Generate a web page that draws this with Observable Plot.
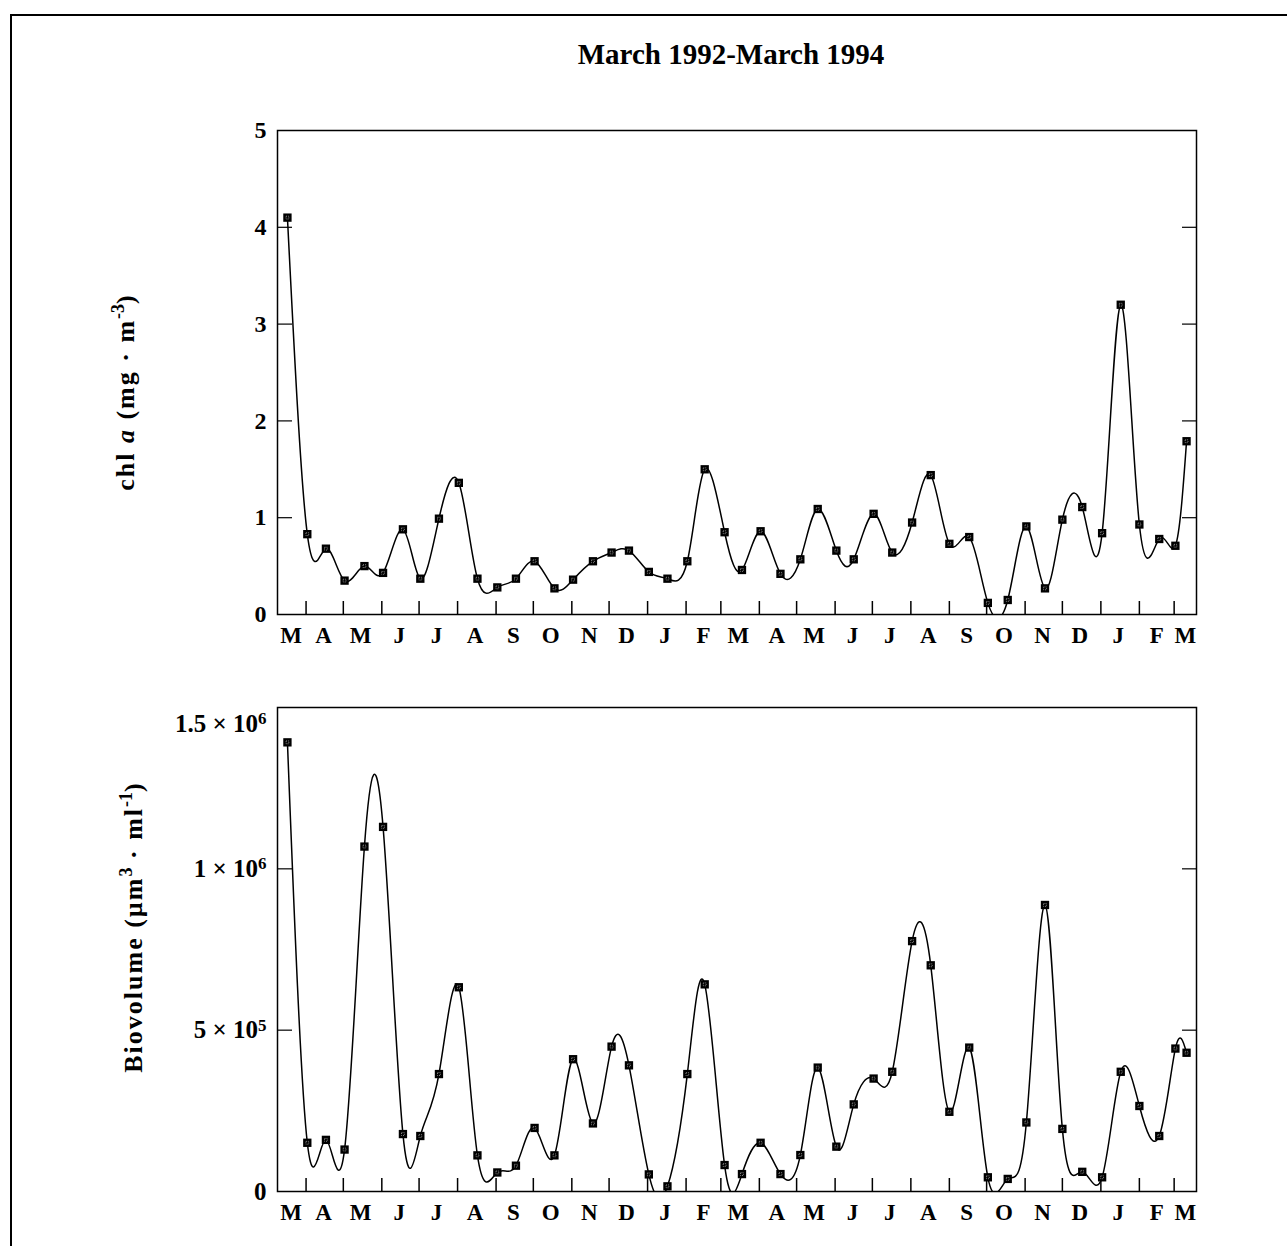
<!DOCTYPE html>
<html>
<head>
<meta charset="utf-8">
<script src="https://cdn.jsdelivr.net/npm/d3@7"></script>
<script src="https://cdn.jsdelivr.net/npm/@observablehq/plot@0.6"></script>
<style>
  html, body { margin: 0; padding: 0; background: #fff; }
  body { width: 1287px; height: 1246px; position: relative; overflow: hidden;
         font-family: "Liberation Serif", "Times New Roman", serif; color: #000; }
  #border { position: absolute; left: 10px; top: 14px; width: 1400px; height: 1400px; z-index: 3;
            border-left: 2px solid #000; border-top: 2px solid #000; box-sizing: border-box; }
  #title { position: absolute; left: 731px; top: 40px; transform: translateX(-50%); z-index: 3;
           font-size: 29px; font-weight: bold; white-space: nowrap; line-height: 29px; }
  .ylab { position: absolute; font-size: 26px; font-weight: bold; white-space: nowrap; z-index: 3;
          letter-spacing: 2px; transform: translate(-50%, -50%) rotate(-90deg); line-height: 26px; }
  .ylab sup { font-size: 18px; vertical-align: 0; position: relative; top: -10px; letter-spacing: 0; }
  #chart1, #chart2 { position: absolute; left: 0; z-index: 1; }
  #chart1 { top: 100px; }
  #chart2 { top: 660px; }
</style>
</head>
<body>
<div id="chart1"></div>
<div id="chart2"></div>
<div id="border"></div>
<div id="title">March 1992-March 1994</div>
<div class="ylab" style="left:127px; top:392px;">chl <i>a</i> (mg · m<sup>-3</sup>)</div>
<div class="ylab" style="left:135px; top:927px;">Biovolume (µm<sup>3</sup> · ml<sup>-1</sup>)</div>
<script>
// ---- data ----
const sampleDates = ["1992-03-17","1992-04-02","1992-04-17","1992-05-02","1992-05-18","1992-06-02","1992-06-18",
  "1992-07-02","1992-07-17","1992-08-02","1992-08-17","1992-09-02","1992-09-17","1992-10-02","1992-10-18",
  "1992-11-02","1992-11-18","1992-12-03","1992-12-17","1993-01-02","1993-01-17","1993-02-02","1993-02-16",
  "1993-03-04","1993-03-18","1993-04-02","1993-04-18","1993-05-04","1993-05-18","1993-06-02","1993-06-16",
  "1993-07-02","1993-07-17","1993-08-02","1993-08-17","1993-09-01","1993-09-17","1993-10-02","1993-10-18",
  "1993-11-02","1993-11-17","1993-12-01","1993-12-17","1994-01-02","1994-01-17","1994-02-01","1994-02-17",
  "1994-03-02","1994-03-11"];
const chlA = [4.10,0.83,0.68,0.35,0.50,0.43,0.88,0.37,0.99,1.36,0.37,0.28,0.37,0.55,0.27,0.36,0.55,0.64,0.66,
  0.44,0.37,0.55,1.50,0.85,0.46,0.86,0.42,0.57,1.09,0.66,0.57,1.04,0.64,0.95,1.44,0.73,0.80,0.12,0.15,0.91,
  0.27,0.98,1.11,0.84,3.20,0.93,0.78,0.71,1.79];
const biovolume = [1392000,151000,160000,130000,1069000,1130000,178000,172000,364000,633000,112000,59000,80000,
  197000,112000,410000,211000,449000,391000,53000,16000,364000,642000,82000,54000,151000,54000,113000,384000,
  139000,270000,350000,371000,776000,701000,247000,446000,44000,39000,214000,888000,194000,61000,44000,371000,
  265000,172000,443000,430000];
const monthLabels = ["M","A","M","J","J","A","S","O","N","D","J","F","M","A","M","J","J","A","S","O","N","D","J","F","M"];
const chlTicks = [0,1,2,3,4,5];
const bioTicks = [0,500000,1000000,1500000];
const bioTickLabels = ["0","5 × 10^5","1 × 10^6","1.5 × 10^6"];
const xStart = "1992-03-09", xEnd = "1994-03-19";

// ---- derived ----
const parse = d3.utcParse("%Y-%m-%d");
const xDomain = [parse(xStart), parse(xEnd)];
const rows = sampleDates.map((d, i) => ({date: parse(d), chl: chlA[i], bio: biovolume[i]}));
const monthStarts = d3.utcMonth.range(d3.utcMonth.ceil(xDomain[0]), xDomain[1]);
const lo = d3.utcDay.offset(xDomain[0], 11), hi = d3.utcDay.offset(xDomain[1], -9);
const labelDates = d3.utcMonth.range(d3.utcMonth.floor(xDomain[0]), xDomain[1])
  .map(m => d3.utcDay.offset(m, 14))
  .map(d => d < lo ? lo : d > hi ? hi : d);
const labelMap = new Map(labelDates.map((d, i) => [+d, monthLabels[i]]));
const bioLabelMap = new Map(bioTicks.map((v, i) => [v, bioTickLabels[i]]));

const common = {
  width: 1287,
  marginLeft: 277, marginRight: 91,
  x: {type: "utc", domain: xDomain},
  style: {fontFamily: '"Liberation Serif", "Times New Roman", serif', fontWeight: "bold", color: "#000", background: "none", overflow: "visible"}
};
const none = () => "";

function panel(yKey, yDomain, innerTicks, labelMarks, opts) {
  return Plot.plot({
    ...common, ...opts,
    y: {domain: yDomain},
    marks: [
      Plot.frame({stroke: "#000", strokeWidth: 1.5}),
      Plot.axisX(monthStarts, {anchor: "bottom", tickSize: -13, strokeWidth: 1.5, tickFormat: none, label: null}),
      Plot.axisX(labelDates, {anchor: "bottom", tickSize: 0, tickPadding: 12, fontSize: 23, tickFormat: d => labelMap.get(+d), label: null}),
      Plot.axisY(innerTicks, {anchor: "left", tickSize: -15, strokeWidth: 1.2, tickFormat: none, label: null}),
      Plot.axisY(innerTicks, {anchor: "right", tickSize: -15, strokeWidth: 1.2, tickFormat: none, label: null}),
      ...labelMarks,
      Plot.line(rows, {x: "date", y: yKey, curve: "natural", stroke: "#000", strokeWidth: 1.5, clip: true}),
      Plot.dot(rows, {x: "date", y: yKey, symbol: "square", r: 4.7, fill: "#000", stroke: "none"}),
      Plot.dot(rows, {x: "date", y: yKey, symbol: "square", r: 1.6, fill: "none", stroke: "#bbb", strokeWidth: 0.7, strokeDasharray: "1,1"})
    ]
  });
}

const chart1 = panel("chl", [0, 5], chlTicks.slice(1, -1), [
  Plot.axisY(chlTicks, {anchor: "left", tickSize: 0, tickPadding: 11, fontSize: 24, tickFormat: d => String(d), label: null})
], {height: 560, marginTop: 30, marginBottom: 46});

const chart2 = panel("bio", [0, 1500000], bioTicks.slice(1, -1), [
  Plot.axisY(bioTicks.slice(0, -1), {anchor: "left", tickSize: 0, tickPadding: 11, fontSize: 25, tickFormat: v => bioLabelMap.get(v), label: null}),
  Plot.axisY(bioTicks.slice(-1), {anchor: "left", tickSize: 0, tickPadding: 11, fontSize: 25, dy: 16, tickFormat: v => bioLabelMap.get(v), label: null})
], {height: 581, marginTop: 47, marginBottom: 50});

// turn "a × 10^n" tick texts into real superscripts
chart2.querySelectorAll("text").forEach(t => {
  const s = t.textContent;
  const k = s.indexOf("^");
  if (k < 0) return;
  t.textContent = s.slice(0, k);
  const sup = document.createElementNS("http://www.w3.org/2000/svg", "tspan");
  sup.setAttribute("dy", "-0.45em");
  sup.setAttribute("font-size", "17");
  sup.textContent = s.slice(k + 1);
  t.appendChild(sup);
});

document.getElementById("chart1").append(chart1);
document.getElementById("chart2").append(chart2);
</script>
</body>
</html>
